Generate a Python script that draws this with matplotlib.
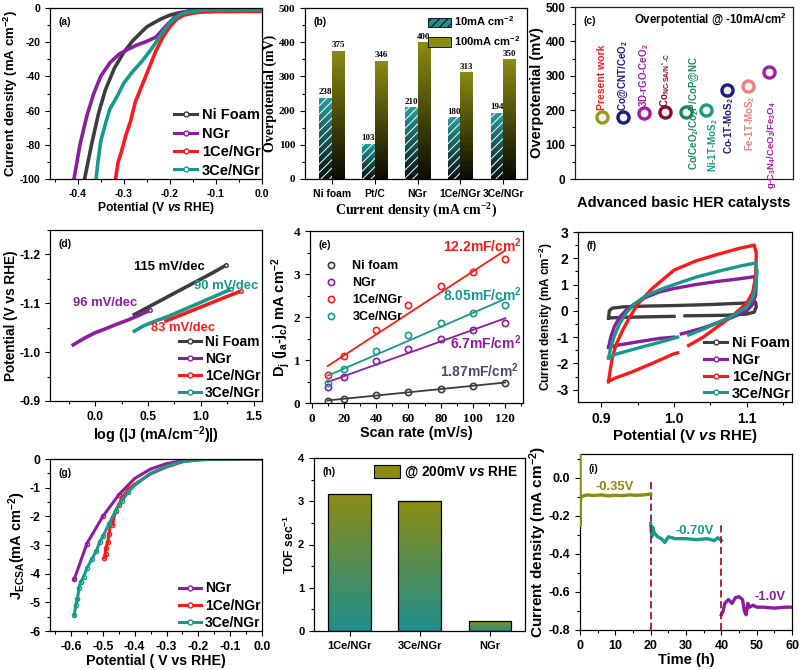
import matplotlib
matplotlib.use('Agg')
import matplotlib.pyplot as plt
import numpy as np
from matplotlib.ticker import MultipleLocator, FormatStrFormatter
from matplotlib.colors import LinearSegmentedColormap
from matplotlib.lines import Line2D
from matplotlib.patches import Patch

plt.rcParams['font.family'] = ['Liberation Sans', 'DejaVu Sans']
plt.rcParams['font.weight'] = 'bold'
plt.rcParams['axes.labelweight'] = 'bold'
plt.rcParams['axes.unicode_minus'] = False
plt.rcParams['mathtext.fontset'] = 'custom'
plt.rcParams['mathtext.rm'] = 'Liberation Sans:bold'
plt.rcParams['mathtext.it'] = 'Liberation Sans:italic:bold'
plt.rcParams['mathtext.bf'] = 'Liberation Sans:bold'
plt.rcParams['mathtext.sf'] = 'Liberation Serif:bold'
plt.rcParams['mathtext.default'] = 'rm'
plt.rcParams['hatch.linewidth'] = 0.7

# colours
C_NI = '#3d3d3d'
C_NGR = '#8a1e9e'
C_1CE = '#ff1a1a'
C_3CE = '#17998c'
C_OLIVE = '#8c8c14'
C_TEAL = '#1f8f8f'

# ---- (a) LSV ----
a_ni_v = [0.0, -0.08, -0.12, -0.15, -0.18, -0.2, -0.22, -0.25, -0.28, -0.3, -0.32, -0.34, -0.355, -0.37, -0.385]
a_ni_j = [-0.3, -0.5, -0.8, -1.5, -2.8, -4.2, -6.5, -11, -19, -26, -35, -48, -62, -80, -100]
a_ngr_v = [0.0, -0.08, -0.12, -0.15, -0.17, -0.19, -0.21, -0.23, -0.25, -0.27, -0.29, -0.31, -0.33, -0.35, -0.365, -0.38, -0.395, -0.408]
a_ngr_j = [0, -0.1, -0.3, -1.0, -2.5, -5.5, -11, -17, -19.5, -21.5, -24, -27, -32, -40, -50, -63, -80, -100]
a_1ce_v = [0.0, -0.1, -0.13, -0.15, -0.17, -0.185, -0.2, -0.215, -0.23, -0.245, -0.26, -0.275, -0.285, -0.295, -0.305, -0.312, -0.315, -0.318]
a_1ce_j = [-2, -2.1, -2.4, -3, -4.2, -6.5, -11, -17, -25, -35, -45, -55, -66, -74, -84, -90, -95, -100]
a_3ce_v = [0.0, -0.1, -0.13, -0.16, -0.18, -0.2, -0.22, -0.24, -0.26, -0.28, -0.3, -0.315, -0.33, -0.34, -0.35, -0.356, -0.36]
a_3ce_j = [-1, -1.1, -1.4, -2.2, -4, -8.5, -16, -24, -31, -37, -44, -52, -59, -68, -78, -90, -100]

# ---- (b) overpotential bars ----
b_cats = ['Ni foam', 'Pt/C', 'NGr', '1Ce/NGr', '3Ce/NGr']
b_eta10 = [238, 103, 210, 180, 194]
b_eta100 = [375, 346, 400, 313, 350]

# ---- (c) comparison ----
c_names = ['Present work', r'Co@CNT/CeO$_2$', r'3D-rGO-CeO$_2$', r'Co$_{NC\text{-}SA/N^*\text{-}C}$',
           r'Co/CeO$_2$/Co$_2$P/CoP@NC', r'Ni-1T-MoS$_2$', r'Co-1T-MoS$_2$', r'Fe-1T-MoS$_2$',
           r'g-C$_3$N$_4$/CeO$_2$/Fe$_3$O$_4$']
c_eta = [180, 180, 192, 195, 195, 200, 260, 270, 310]
c_pt_colors = ['#9a9a1a', '#1c1c7a', '#a020a0', '#8b0a2a', '#1a8a5a', '#1a9a8a', '#1c1c7a', '#f08080', '#a020a0']
c_txt_colors = ['#ff2020', '#1c1c7a', '#a020a0', '#8b0a2a', '#1a8a5a', '#1a9a8a', '#1c1c7a', '#f08080', '#a020a0']

# ---- (d) Tafel ----
d_ni_x = [0.37, 0.5, 0.7, 0.9, 1.1, 1.24]
d_ni_e = [-1.077, -1.092, -1.115, -1.138, -1.161, -1.178]
d_ngr_x = [-0.21, -0.1, 0.0, 0.1, 0.2, 0.3, 0.4, 0.45, 0.52]
d_ngr_e = [-1.015, -1.029, -1.040, -1.048, -1.057, -1.065, -1.074, -1.079, -1.086]
d_1ce_x = [0.67, 0.8, 0.95, 1.1, 1.25, 1.38]
d_1ce_e = [-1.064, -1.075, -1.088, -1.101, -1.114, -1.125]
d_3ce_x = [0.37, 0.45, 0.55, 0.7, 0.85, 1.0, 1.15, 1.29]
d_3ce_e = [-1.043, -1.053, -1.062, -1.074, -1.088, -1.102, -1.116, -1.129]

# ---- (e) double layer ----
e_scan = [10, 20, 40, 60, 80, 100, 120]
e_ni = [0.05, 0.1, 0.18, 0.25, 0.33, 0.4, 0.47]
e_ngr = [0.37, 0.61, 0.97, 1.26, 1.49, 1.70, 1.87]
e_1ce = [0.64, 1.09, 1.69, 2.29, 2.71, 3.05, 3.35]
e_3ce = [0.47, 0.79, 1.21, 1.58, 1.87, 2.09, 2.28]

# ---- (f) CV ----
nan = np.nan
f_1ce_v = [0.91, 0.912, 0.915, 0.92, 0.93, 0.94, 0.95, 0.97, 1.0, 1.03, 1.06, 1.09, 1.11, 1.113, 1.112, 1.108, 1.1, 1.09, 1.08, 1.06, 1.04, 1.02, nan, 1.005, 1.0, 0.97, 0.94, 0.92, 0.91]
f_1ce_j = [-2.7, -2.3, -1.8, -1.3, -0.7, -0.2, 0.25, 0.85, 1.55, 1.9, 2.15, 2.38, 2.5, 2.2, 1.3, 0.7, 0.3, 0.05, -0.2, -0.6, -1.0, -1.32, nan, -1.6, -1.63, -2.0, -2.35, -2.55, -2.68]
f_ngr_v = [0.91, 0.913, 0.918, 0.925, 0.935, 0.945, 0.96, 0.98, 1.0, 1.03, 1.06, 1.09, 1.11, 1.113, 1.112, 1.108, 1.1, 1.08, 1.06, 1.04, 1.01, nan, 1.0, 0.98, 0.95, 0.92, 0.91]
f_ngr_j = [-1.4, -1.0, -0.6, -0.25, 0.05, 0.25, 0.5, 0.72, 0.85, 1.0, 1.12, 1.22, 1.3, 1.1, 0.6, 0.25, 0.0, -0.25, -0.45, -0.65, -0.88, nan, -1.0, -1.05, -1.18, -1.32, -1.38]
f_3ce_v = [0.91, 0.913, 0.918, 0.925, 0.935, 0.945, 0.96, 0.98, 1.0, 1.03, 1.06, 1.09, 1.112, 1.114, 1.112, 1.108, 1.1, 1.08, 1.06, 1.04, 1.02, nan, 1.005, 0.98, 0.95, 0.92, 0.91]
f_3ce_j = [-1.8, -1.4, -0.95, -0.5, -0.05, 0.25, 0.55, 0.8, 1.0, 1.28, 1.5, 1.7, 1.82, 1.5, 0.9, 0.5, 0.15, -0.2, -0.45, -0.7, -0.92, nan, -1.0, -1.2, -1.42, -1.65, -1.78]
f_ni_v = [0.91, 0.911, 0.915, 0.93, 0.96, 1.0, 1.05, 1.1, 1.112, 1.113, 1.11, 1.1, 1.07, 1.015, nan, 1.0, 0.96, 0.93, 0.91]
f_ni_j = [-0.27, 0.0, 0.1, 0.15, 0.18, 0.2, 0.24, 0.3, 0.33, 0.15, -0.05, -0.12, -0.17, -0.19, nan, -0.21, -0.23, -0.25, -0.27]

# ---- (g) ECSA normalised LSV ----
g_ngr_v = [0, -0.15, -0.2, -0.25, -0.3, -0.35, -0.4, -0.45, -0.5, -0.55, -0.59]
g_ngr_j = [0, 0, -0.02, -0.06, -0.16, -0.35, -0.68, -1.25, -2.0, -2.95, -4.2]
g_1ce_v = [0, -0.15, -0.2, -0.25, -0.3, -0.35, -0.4, -0.42, -0.44, -0.45, -0.46, -0.47, -0.475, -0.48, -0.485, -0.49, -0.495, -0.49]
g_1ce_j = [0, -0.01, -0.03, -0.1, -0.28, -0.52, -0.88, -1.05, -1.35, -1.6, -1.8, -2.3, -2.2, -2.6, -2.9, -3.1, -3.45, -3.3]
g_3ce_v = [0, -0.15, -0.2, -0.25, -0.3, -0.35, -0.4, -0.42, -0.44, -0.46, -0.48, -0.5, -0.51, -0.52, -0.535, -0.55, -0.56, -0.57, -0.575, -0.58, -0.585, -0.59]
g_3ce_j = [0, -0.01, -0.03, -0.09, -0.25, -0.5, -0.92, -1.15, -1.45, -1.8, -2.25, -2.7, -2.9, -3.2, -3.5, -3.8, -4.1, -4.3, -4.5, -4.9, -5.1, -5.45]

# ---- (h) TOF ----
h_cats = ['1Ce/NGr', '3Ce/NGr', 'NGr']
h_tof = [3.17, 3.0, 0.23]

# ---- (i) chronoamperometry ----
i_t1 = [0, 0.02, 0.1, 0.3, 1, 2, 4, 6, 8, 10, 12, 14, 16, 18, 20]
i_j1 = [0.12, -0.25, -0.13, -0.1, -0.095, -0.09, -0.093, -0.09, -0.095, -0.092, -0.094, -0.09, -0.092, -0.09, -0.085]
i_t2 = [20, 20.3, 20.6, 21, 21.5, 22, 23, 24, 25, 27, 30, 33, 36, 38, 39, 40]
i_j2 = [-0.24, -0.31, -0.26, -0.29, -0.3, -0.31, -0.32, -0.34, -0.31, -0.32, -0.32, -0.325, -0.32, -0.33, -0.315, -0.33]
i_t3 = [40, 40.5, 41, 42, 43, 44, 45, 46, 46.5, 47, 47.5, 48, 49, 50, 52, 55, 58, 60]
i_j3 = [-0.72, -0.7, -0.66, -0.64, -0.66, -0.63, -0.625, -0.64, -0.7, -0.72, -0.66, -0.68, -0.67, -0.68, -0.68, -0.685, -0.68, -0.68]
i_switch_t = [20, 40]
i_switch_top = [-0.02, -0.24]

W, H = 800, 670


def rect(l, r, t, b):
    return [l / W, 1 - b / H, (r - l) / W, (b - t) / H]


def style(ax, letter, tsize=7.5, lx=0.04, ly=0.9):
    ax.tick_params(which='both', direction='out', top=False, right=False, labelsize=tsize, width=0.8)
    ax.tick_params(which='major', length=3.5)
    ax.tick_params(which='minor', length=2)
    for s in ax.spines.values():
        s.set_linewidth(0.9)
    ax.text(lx, ly, letter, transform=ax.transAxes, fontsize=7.5, fontweight='bold')


def leg_handles(colors, labels, line=True):
    hs = []
    for c, l in zip(colors, labels):
        if line:
            hs.append(Line2D([], [], color=c, lw=2.2, marker='o', ms=3.5, mfc='white', mec=c, mew=1, label=l))
        else:
            hs.append(Line2D([], [], color=c, ls='none', marker='o', ms=4.5, mfc='none', mec=c, mew=1.2, label=l))
    return hs


def line_legend(ax, cols, names, size, spacing=0.22):
    ax.legend(handles=leg_handles(cols, names), loc='lower right', frameon=False, fontsize=size,
              handlelength=1.6, handletextpad=0.3, labelspacing=spacing, borderaxespad=0.0, borderpad=0.1)


def gradient_fill(ax, bars, c_top, c_bot, z=1):
    cmap = LinearSegmentedColormap.from_list('g', [c_bot, c_top])
    grad = np.linspace(0, 1, 256).reshape(-1, 1)
    for b in bars:
        x, y = b.get_xy()
        im = ax.imshow(grad, extent=[x, x + b.get_width(), y, y + b.get_height()], origin='lower',
                       aspect='auto', cmap=cmap, zorder=z)
        im.set_clip_path(b)


fig = plt.figure(figsize=(8, 6.7), dpi=100)
names4 = ['Ni Foam', 'NGr', '1Ce/NGr', '3Ce/NGr']
cols4 = [C_NI, C_NGR, C_1CE, C_3CE]

# (a)
ax = fig.add_axes(rect(50, 262, 8, 179))
for v, j, c in [(a_ni_v, a_ni_j, C_NI), (a_ngr_v, a_ngr_j, C_NGR), (a_1ce_v, a_1ce_j, C_1CE), (a_3ce_v, a_3ce_j, C_3CE)]:
    ax.plot(v, j, color=c, lw=2.6, solid_capstyle='round')
ax.set_xlim(-0.46, 0.0)
ax.set_ylim(-100, 0)
ax.xaxis.set_major_locator(MultipleLocator(0.1))
ax.xaxis.set_minor_locator(MultipleLocator(0.05))
ax.xaxis.set_major_formatter(FormatStrFormatter('%.1f'))
ax.yaxis.set_major_locator(MultipleLocator(20))
ax.yaxis.set_minor_locator(MultipleLocator(10))
ax.set_xlabel(r'Potential (V $\mathit{vs}$ RHE)', fontsize=8.7, labelpad=1)
ax.set_ylabel(r'Current density (mA cm$^{-2}$)', fontsize=9.5, labelpad=0)
line_legend(ax, cols4, names4, 10.5, spacing=0.3)
style(ax, '(a)')

# (b)
ax = fig.add_axes(rect(305, 527, 8, 179))
xb = np.arange(len(b_cats))
bw = 0.3
bars10 = ax.bar(xb - bw / 2, b_eta10, bw, facecolor='none', edgecolor='white', hatch='////', lw=0, zorder=3)
bars100 = ax.bar(xb + bw / 2, b_eta100, bw, facecolor='none', edgecolor='none', lw=0, zorder=3)
gradient_fill(ax, bars10, '#24a0a0', '#050f0f')
gradient_fill(ax, bars100, C_OLIVE, '#0a0a02')
for xi, v in zip(xb, b_eta10):
    ax.text(xi - bw / 2, v + 4, str(v), ha='center', va='bottom', fontsize=6.5, family='Liberation Serif', fontweight='bold')
for xi, v in zip(xb, b_eta100):
    ax.text(xi + bw / 2, v + 4, str(v), ha='center', va='bottom', fontsize=6.5, family='Liberation Serif', fontweight='bold')
ax.set_xlim(-0.62, 4.55)
ax.set_ylim(0, 500)
ax.set_xticks(xb)
ax.set_xticklabels(b_cats, fontsize=6.5)
ax.yaxis.set_major_locator(MultipleLocator(100))
ax.yaxis.set_minor_locator(MultipleLocator(50))
ax.set_ylabel('Overpotential (mV)', fontsize=10, family='Liberation Serif', labelpad=1)
ax.set_xlabel(r'Current density (mA cm$^{\mathsf{-2}}$)', fontsize=10, family='Liberation Serif', labelpad=1)
style(ax, '(b)')
for lbl in ax.get_yticklabels():
    lbl.set_fontfamily('Liberation Serif')
    lbl.set_fontsize(8)
hb = [Patch(facecolor=C_TEAL, edgecolor='black', hatch='////', lw=0.6, label=r'10mA cm$^{-2}$'),
      Patch(facecolor=C_OLIVE, edgecolor='black', lw=0.6, label=r'100mA cm$^{-2}$')]
ax.legend(handles=hb, loc='upper right', frameon=False, fontsize=8, handlelength=2.0,
          handleheight=0.9, labelspacing=0.5, borderaxespad=0.2, handletextpad=0.3)

# (c)
ax = fig.add_axes(rect(575, 793, 7, 179))
xc = np.arange(len(c_names))
for xi, v, pc in zip(xc, c_eta, c_pt_colors):
    ax.plot(xi, v, 'o', ms=8, mfc='#f2f2f2', mec=pc, mew=2.4)
# label placement: (dx, y, va, size)
c_lab = [(0, 200, 'bottom', 7.5), (0, 197, 'bottom', 7), (0, 210, 'bottom', 7), (0, 210, 'bottom', 7),
         (0.42, 191, 'center', 7), (0.3, 178, 'top', 7), (0.1, 240, 'top', 7), (0.1, 242, 'top', 7),
         (0.1, 226, 'top', 6.8)]
for xi, name, tc, (dx, ty, va, fs) in zip(xc, c_names, c_txt_colors, c_lab):
    ax.text(xi + dx, ty, name, rotation=90, color=tc, ha='center', va=va, fontsize=fs, fontweight='bold')
ax.set_xlim(-1.3, 9.15)
ax.set_ylim(0, 500)
ax.set_xticks([])
ax.yaxis.set_major_locator(MultipleLocator(100))
ax.yaxis.set_minor_locator(MultipleLocator(50))
ax.set_ylabel('Overpotential (mV)', fontsize=10.5, labelpad=1)
ax.set_xlabel('Advanced basic HER catalysts', fontsize=10.5, labelpad=12)
ax.text(0.97, 0.9, r'Overpotential @ -10mA/cm$^2$', transform=ax.transAxes, ha='right', fontsize=8.3)
style(ax, '(c)', tsize=8.5)
for s in ax.spines.values():
    s.set_color('#1c1c4a')

# (d)
ax = fig.add_axes(rect(50, 262, 230, 401))
for x, e, c in [(d_ni_x, d_ni_e, C_NI), (d_ngr_x, d_ngr_e, C_NGR), (d_1ce_x, d_1ce_e, C_1CE), (d_3ce_x, d_3ce_e, C_3CE)]:
    ax.plot(x, e, color=c, lw=2.6, marker='o', ms=2.5, mfc='white', mec=c, markevery=[-1])
ax.set_xlim(-0.43, 1.58)
ax.set_ylim(-0.9, -1.25)
ax.xaxis.set_major_locator(MultipleLocator(0.5))
ax.xaxis.set_minor_locator(MultipleLocator(0.25))
ax.xaxis.set_major_formatter(FormatStrFormatter('%.1f'))
ax.yaxis.set_major_locator(MultipleLocator(0.1))
ax.yaxis.set_minor_locator(MultipleLocator(0.05))
ax.yaxis.set_major_formatter(FormatStrFormatter('%.1f'))
ax.text(0.70, -1.175, '115 mV/dec', color='black', ha='center', va='center', fontsize=9.4)
ax.text(0.09, -1.10, '96 mV/dec', color=C_NGR, ha='center', va='center', fontsize=9.4)
ax.text(1.24, -1.135, '90 mV/dec', color=C_3CE, ha='center', va='center', fontsize=9.4)
ax.text(0.83, -1.049, '83 mV/dec', color=C_1CE, ha='center', va='center', fontsize=9.4)
ax.set_xlabel(r'log (|J (mA/cm$^{-2}$)|)', fontsize=10.4, labelpad=1)
ax.set_ylabel('Potential (V vs RHE)', fontsize=9.8, labelpad=1)
line_legend(ax, cols4, names4, 10, spacing=0.2)
style(ax, '(d)', tsize=8.7)

# (e)
ax = fig.add_axes(rect(310, 523, 231, 403))
xs = np.array(e_scan)
for ys, c in [(e_ni, C_NI), (e_ngr, C_NGR), (e_1ce, C_1CE), (e_3ce, C_3CE)]:
    k, b0 = np.polyfit(xs, ys, 1)
    ax.plot([xs[0], xs[-1]], [k * xs[0] + b0, k * xs[-1] + b0], color=c, lw=1.3)
    ax.plot(xs, ys, 'o', ms=4.5, mfc='none', mec=c, mew=1.2)
ax.text(106, 3.66, r'12.2mF/cm$^2$', color=C_1CE, ha='center', va='center', fontsize=10)
ax.text(106, 2.53, r'8.05mF/cm$^2$', color=C_3CE, ha='center', va='center', fontsize=10)
ax.text(108, 1.40, r'6.7mF/cm$^2$', color=C_NGR, ha='center', va='center', fontsize=10)
ax.text(104, 0.74, r'1.87mF/cm$^2$', color='#4a4a6a', ha='center', va='center', fontsize=10)
ax.set_xlim(-1, 131)
ax.set_ylim(0, 4)
ax.xaxis.set_major_locator(MultipleLocator(20))
ax.xaxis.set_minor_locator(MultipleLocator(10))
ax.yaxis.set_major_locator(MultipleLocator(1))
ax.yaxis.set_minor_locator(MultipleLocator(0.5))
ax.set_xlabel('Scan rate (mV/s)', fontsize=10.4, labelpad=1)
ax.set_ylabel(r'D$_j$ (j$_a$-j$_c$) mA cm$^{-2}$', fontsize=10.5, labelpad=1)
ax.legend(handles=leg_handles(cols4, ['Ni foam', 'NGr', '1Ce/NGr', '3Ce/NGr'], line=False),
          loc='upper left', bbox_to_anchor=(0.0, 0.88), frameon=False, fontsize=9,
          handletextpad=0.7, labelspacing=0.4, borderpad=0.2)
style(ax, '(e)')
for lbl in ax.get_xticklabels() + ax.get_yticklabels():
    lbl.set_fontfamily('Liberation Serif')
    lbl.set_fontsize(9.5)

# (f)
ax = fig.add_axes(rect(578, 792, 232, 402))
for v, j, c in [(f_ni_v, f_ni_j, C_NI), (f_ngr_v, f_ngr_j, C_NGR), (f_1ce_v, f_1ce_j, C_1CE), (f_3ce_v, f_3ce_j, C_3CE)]:
    ax.plot(v, j, color=c, lw=2.4)
ax.set_xlim(0.868, 1.162)
ax.set_ylim(-3.47, 3.0)
ax.xaxis.set_major_locator(MultipleLocator(0.1))
ax.xaxis.set_minor_locator(MultipleLocator(0.05))
ax.xaxis.set_major_formatter(FormatStrFormatter('%.1f'))
ax.yaxis.set_major_locator(MultipleLocator(1))
ax.yaxis.set_minor_locator(MultipleLocator(0.5))
ax.set_xlabel(r'Potential (V $\mathit{vs}$ RHE)', fontsize=10.8, labelpad=1)
ax.set_ylabel(r'Current density (mA cm$^{-2}$)', fontsize=8.5, labelpad=1)
line_legend(ax, cols4, names4, 10.5, spacing=0.2)
style(ax, '(f)', tsize=10)

# (g)
ax = fig.add_axes(rect(50, 262, 459, 631))
for v, j, c in [(g_ngr_v, g_ngr_j, C_NGR), (g_1ce_v, g_1ce_j, C_1CE), (g_3ce_v, g_3ce_j, C_3CE)]:
    ax.plot(v, j, color=c, lw=2.2, marker='o', ms=3, mfc='none', mec=c, markevery=slice(7, None))
ax.set_xlim(-0.666, 0.0)
ax.set_ylim(-6, 0)
ax.xaxis.set_major_locator(MultipleLocator(0.1))
ax.xaxis.set_minor_locator(MultipleLocator(0.05))
ax.xaxis.set_major_formatter(FormatStrFormatter('%.1f'))
ax.yaxis.set_major_locator(MultipleLocator(1))
ax.yaxis.set_minor_locator(MultipleLocator(0.5))
ax.set_xlabel('Potential ( V vs RHE)', fontsize=10.2, labelpad=1)
ax.set_ylabel(r'J$_{ECSA}$(mA cm$^{-2}$)', fontsize=10.5, labelpad=1)
line_legend(ax, cols4[1:], names4[1:], 10, spacing=0.22)
style(ax, '(g)', tsize=8.8)

# (h)
ax = fig.add_axes(rect(314, 525, 458, 631))
xh = np.arange(len(h_cats))
barsh = ax.bar(xh, h_tof, 0.61, facecolor='none', edgecolor='black', lw=0.9, zorder=3)
gradient_fill(ax, barsh, C_OLIVE, C_TEAL)
ax.set_xlim(-0.51, 2.5)
ax.set_ylim(0, 4)
ax.set_xticks(xh)
ax.set_xticklabels(h_cats)
ax.yaxis.set_major_locator(MultipleLocator(1))
ax.yaxis.set_minor_locator(MultipleLocator(0.5))
ax.set_ylabel(r'TOF sec$^{-1}$', fontsize=8.7, labelpad=1)
ax.legend(handles=[Patch(facecolor=C_OLIVE, edgecolor='black', lw=0.8, label=r'@ 200mV $\mathit{vs}$ RHE')],
          loc='upper right', frameon=False, fontsize=9.8, handlelength=1.9, handleheight=1.0,
          borderaxespad=0.1, handletextpad=0.3)
style(ax, '(h)', tsize=8)

# (i)
ax = fig.add_axes(rect(580, 792, 454, 630))
ax.plot(i_t1, i_j1, color='#8c8c14', lw=2.4, zorder=3)
ax.plot(i_t2, i_j2, color=C_3CE, lw=2.4)
ax.plot(i_t3, i_j3, color=C_NGR, lw=2.4)
ax.vlines(i_switch_t, -0.8, i_switch_top, colors='#9b1b30', linestyles=(0, (4, 2)), lw=1.3)
ax.text(9.9, -0.05, '-0.35V', color='#8c8c14', ha='center', va='center', fontsize=9.4)
ax.text(32.3, -0.28, '-0.70V', color=C_3CE, ha='center', va='center', fontsize=9.4)
ax.text(53.9, -0.626, '-1.0V', color=C_NGR, ha='center', va='center', fontsize=9.4)
ax.set_xlim(0, 60)
ax.set_ylim(-0.8, 0.125)
ax.xaxis.set_major_locator(MultipleLocator(10))
ax.xaxis.set_minor_locator(MultipleLocator(5))
ax.yaxis.set_major_locator(MultipleLocator(0.2))
ax.yaxis.set_minor_locator(MultipleLocator(0.1))
ax.yaxis.set_major_formatter(FormatStrFormatter('%.1f'))
ax.set_xlabel('Time (h)', fontsize=10.5, labelpad=1)
ax.set_ylabel(r'Current density (mA cm$^{-2}$)', fontsize=11, labelpad=0)
style(ax, '(i)', tsize=9)

fig.savefig('out.png', dpi=100)
